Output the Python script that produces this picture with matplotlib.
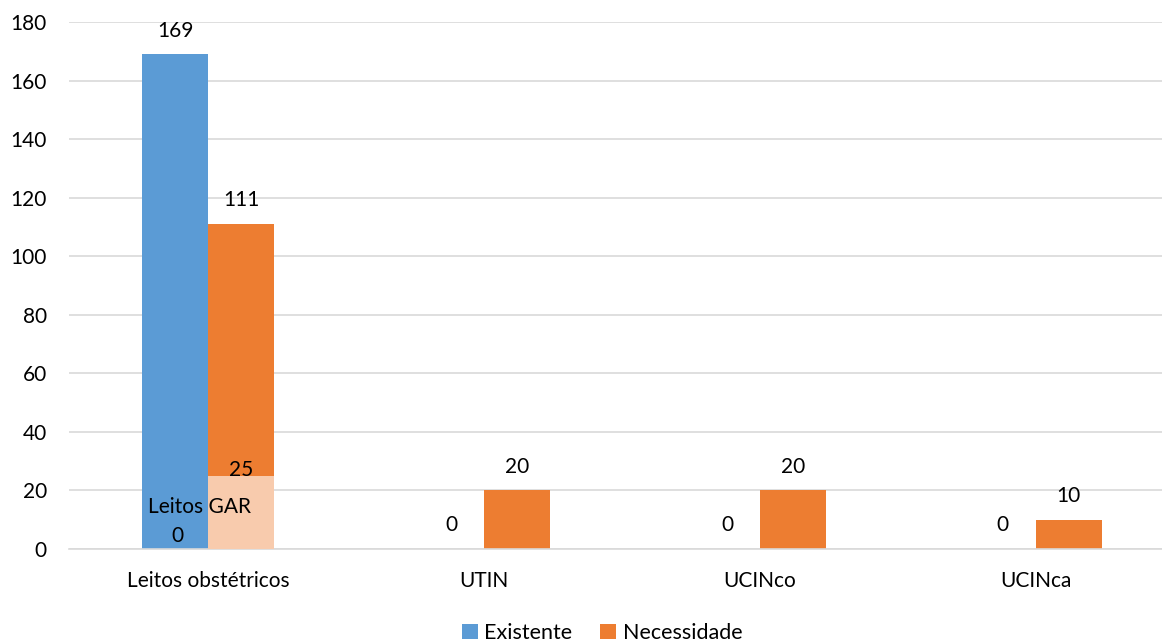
import matplotlib.pyplot as plt
import numpy as np

categorias = ["Leitos obstétricos", "UTIN", "UCINco", "UCINca"]
existente = [169, 0, 0, 0]
necessidade = [111, 20, 20, 10]
# leitos de gestação de alto risco (dentro dos leitos obstétricos)
gar_existente = 0
gar_necessidade = 25

azul = "#5B9BD5"
laranja = "#ED7D31"
pessego = "#F8CBAD"

plt.rcParams["font.family"] = ["Lato", "DejaVu Sans"]
plt.rcParams["font.size"] = 15

fig = plt.figure(figsize=(11.62, 6.41), dpi=100)
ax = fig.add_axes([69 / 1162, 92 / 641, 1093 / 1162, 527 / 641])

x = np.arange(len(categorias))
w = 0.239
b1 = ax.bar(x - w / 2, existente, w, color=azul, label="Existente", zorder=2)
b2 = ax.bar(x + w / 2, necessidade, w, color=laranja, label="Necessidade", zorder=2)
ax.bar(x[0] + w / 2, gar_necessidade, w, color=pessego, zorder=3)

for rects in (b1, b2):
    for r in rects:
        ax.annotate(f"{r.get_height():.0f}", (r.get_x() + r.get_width() / 2, r.get_height()),
                    xytext=(0, 17), textcoords="offset points", ha="center", va="center")

ax.annotate(f"{gar_necessidade}", (x[0] + w / 2, gar_necessidade),
            xytext=(0, 4), textcoords="offset points", ha="center", va="center", zorder=4)
ax.annotate("Leitos GAR", (x[0] - 0.03, gar_existente), xytext=(0, 30),
            textcoords="offset points", ha="center", va="center", zorder=4)
ax.annotate(f"{gar_existente}", (x[0] - w / 2 + 0.008, gar_existente), xytext=(0, 9),
            textcoords="offset points", ha="center", va="center", zorder=4)

ax.set_xlim(-0.504, 3.457)
ax.set_ylim(0, 180)
ax.set_yticks(range(0, 181, 20))
ax.set_xticks(x)
ax.set_xticklabels(categorias)
ax.tick_params(axis="both", length=0)
ax.tick_params(axis="y", pad=16)
ax.tick_params(axis="x", pad=16)
ax.yaxis.grid(True, color="#D9D9D9", linewidth=1.2, zorder=0)
ax.set_axisbelow(True)
for s in ax.spines.values():
    s.set_visible(False)
ax.spines["bottom"].set_visible(True)
ax.spines["bottom"].set_color("#D9D9D9")
ax.spines["bottom"].set_linewidth(1.2)

fig.legend(handles=[b1, b2], loc="center", bbox_to_anchor=(602 / 1162, 1 - 633 / 641), ncol=2,
           frameon=False, handlelength=0.75, handleheight=0.75, handletextpad=0.3,
           columnspacing=1.3, fontsize=15.5)

fig.savefig("out.png", dpi=100)
